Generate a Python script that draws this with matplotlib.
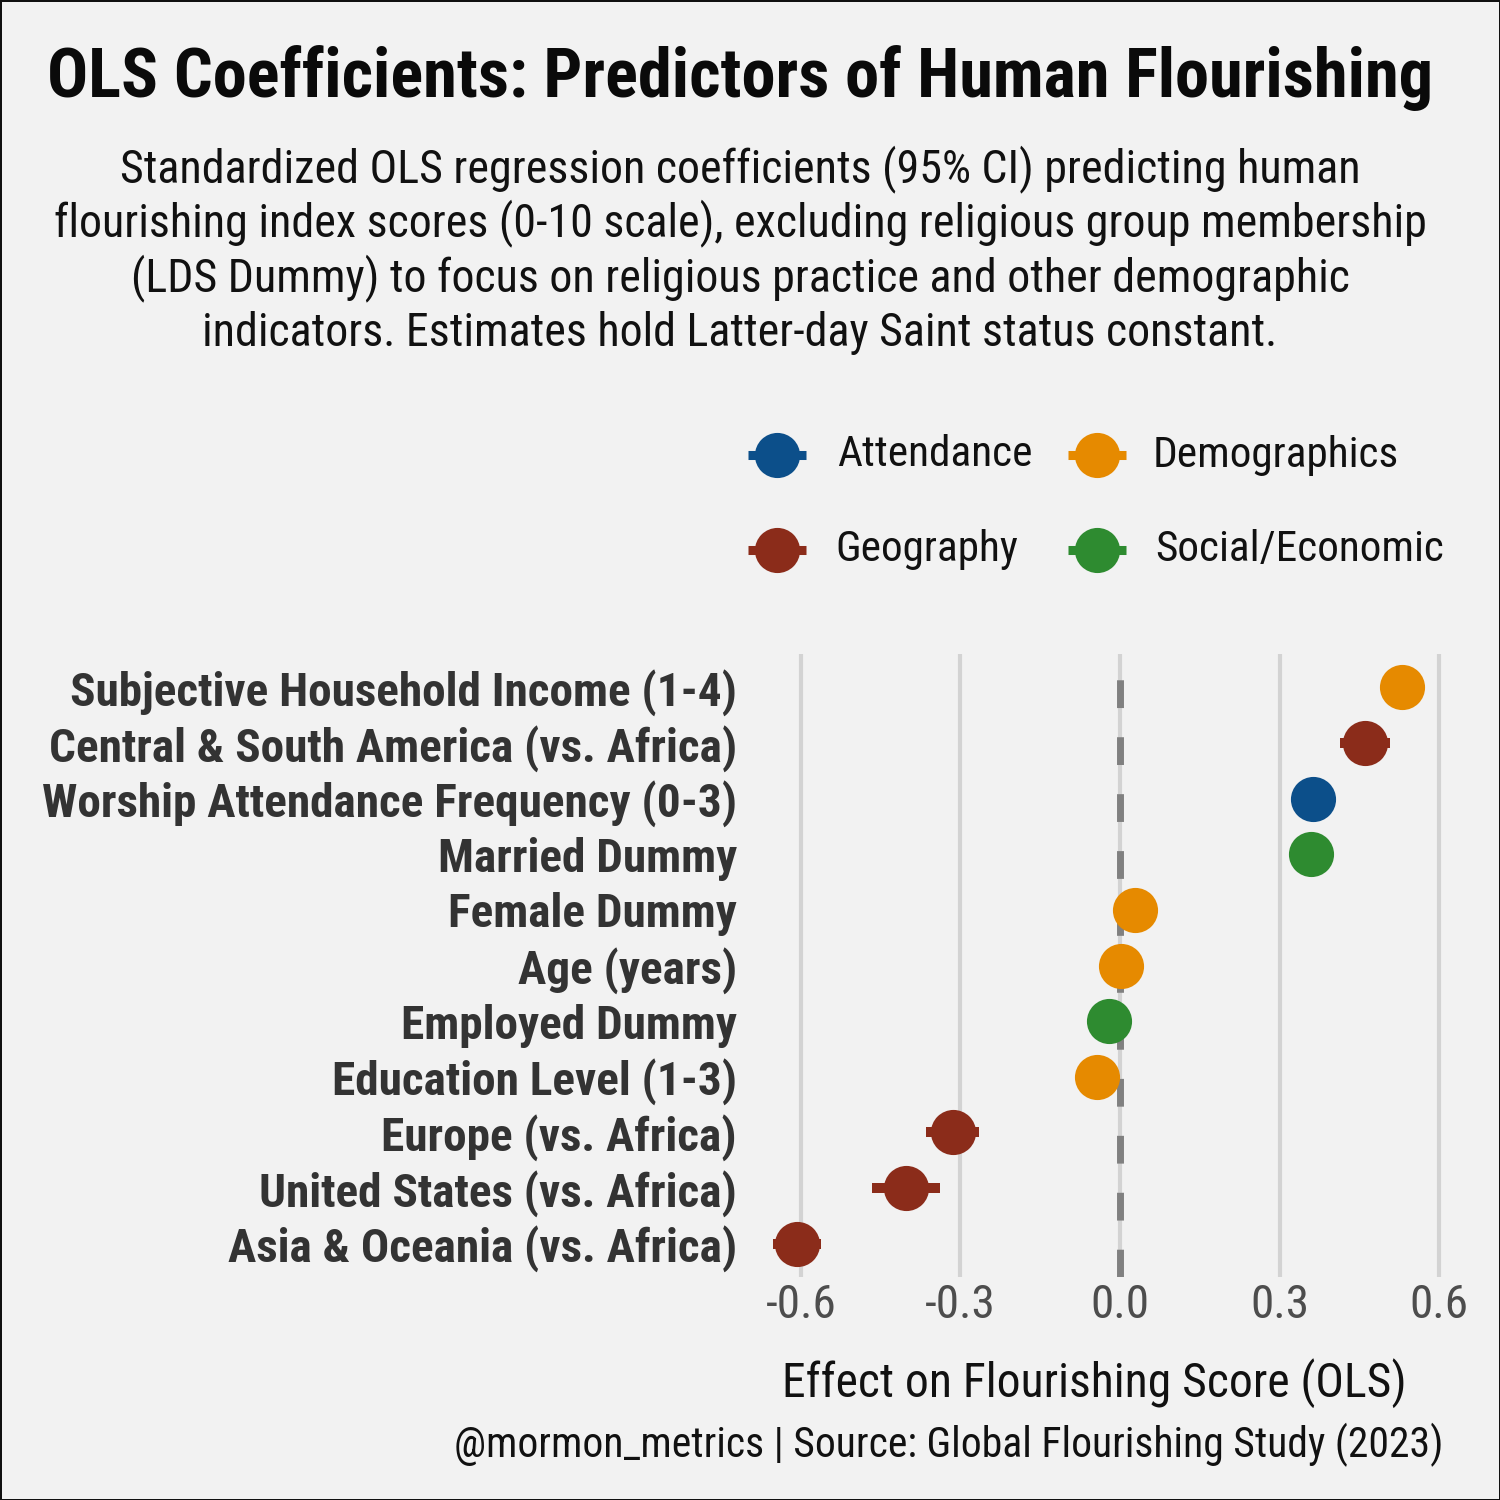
import matplotlib
matplotlib.use("Agg")
import matplotlib.pyplot as plt
from matplotlib import font_manager
from matplotlib.lines import Line2D

# ---------------- data ----------------
labels = [
    "Subjective Household Income (1-4)",
    "Central & South America (vs. Africa)",
    "Worship Attendance Frequency (0-3)",
    "Married Dummy",
    "Female Dummy",
    "Age (years)",
    "Employed Dummy",
    "Education Level (1-3)",
    "Europe (vs. Africa)",
    "United States (vs. Africa)",
    "Asia & Oceania (vs. Africa)",
]
coef = [0.530, 0.461, 0.363, 0.359, 0.028, 0.002, -0.021, -0.044, -0.315, -0.403, -0.607]
ci_low = [0.505, 0.413, 0.343, 0.336, 0.000, -0.003, -0.048, -0.072, -0.364, -0.467, -0.653]
ci_high = [0.555, 0.508, 0.383, 0.382, 0.056, 0.007, 0.006, -0.016, -0.266, -0.338, -0.562]
group = ["Demographics", "Geography", "Attendance", "Social/Economic", "Demographics",
         "Demographics", "Social/Economic", "Demographics", "Geography", "Geography", "Geography"]
groups = ["Attendance", "Demographics", "Geography", "Social/Economic"]
colors = {"Attendance": "#0C4F8A", "Demographics": "#E68A00",
          "Geography": "#8B2C1A", "Social/Economic": "#2E8B30"}
xticks = [-0.6, -0.3, 0.0, 0.3, 0.6]
xtick_labels = ["-0.6", "-0.3", "0.0", "0.3", "0.6"]

title = "OLS Coefficients: Predictors of Human Flourishing"
subtitle_lines = [
    "Standardized OLS regression coefficients (95% CI) predicting human",
    "flourishing index scores (0-10 scale), excluding religious group membership",
    "(LDS Dummy) to focus on religious practice and other demographic",
    "indicators. Estimates hold Latter-day Saint status constant.",
]
xlabel = "Effect on Flourishing Score (OLS)"
caption = "@mormon_metrics | Source: Global Flourishing Study (2023)"

# ---------------- font ----------------
avail = {f.name for f in font_manager.fontManager.ttflist}
fam = "DejaVu Sans"
for cand in ["Liberation Sans Narrow", "Roboto Condensed", "Open Sans Condensed", "Roboto", "Noto Sans"]:
    if cand in avail:
        fam = cand
        break
plt.rcParams["font.family"] = [fam, "DejaVu Sans"]

W = H = 1500
fig = plt.figure(figsize=(15, 15), dpi=100)
BG = "#F2F2F2"
fig.patch.set_facecolor(BG)
fig.patch.set_edgecolor("#111111")
fig.patch.set_linewidth(2)

def fx(px):
    return px / W

def fy(py):
    return 1 - py / H

ax_left, ax_right, ax_top, ax_bot = 742.5, 1447, 654, 1277
ax = fig.add_axes([fx(ax_left), fy(ax_bot), fx(ax_right - ax_left), (ax_bot - ax_top) / H])
ax.set_facecolor(BG)

n = len(labels)
ypos = [n - 1 - i for i in range(n)]

for xt in xticks:
    ax.axvline(xt, color="#D3D3D3", lw=3, zorder=1)
ax.axvline(0, color="#808080", lw=5, ls=(0, (4, 4.2)), zorder=2)

for i in range(n):
    c = colors[group[i]]
    ax.plot([ci_low[i], ci_high[i]], [ypos[i], ypos[i]], color=c, lw=7.2,
            solid_capstyle="butt", zorder=3)
    ax.plot([coef[i]], [ypos[i]], "o", color=c, ms=32.5, mew=0, zorder=4)

ax.set_xlim(-0.71, 0.615)
ax.set_ylim(-0.6, n - 1 + 0.6)
ax.set_xticks(xticks, xtick_labels)
ax.set_yticks(ypos, labels)
for s in ax.spines.values():
    s.set_visible(False)
ax.tick_params(axis="both", length=0)
ax.tick_params(axis="x", pad=4.5, labelcolor="#4D4D4D", labelsize=24)
ax.tick_params(axis="y", pad=4, labelcolor="#333333", labelsize=26)
for t in ax.get_yticklabels():
    t.set_fontweight("bold")

ax.set_xlabel(xlabel, fontsize=32, color="#111111")
ax.xaxis.label.set_va("center")
ax.xaxis.set_label_coords(0.5, -(1383 - ax_bot) / (ax_bot - ax_top))

# title, subtitle, caption
t_title = fig.text(fx(740), fy(97), title, ha="center", va="baseline",
                   fontsize=44, fontweight="bold", color="#0A0A0A")
sub_texts = []
for k, line in enumerate(subtitle_lines):
    sub_texts.append(fig.text(fx(740), fy(182 + k * 54.7), line, ha="center",
                              va="baseline", fontsize=28, color="#111111"))
t_cap = fig.text(fx(1443), fy(1445), caption, ha="right", va="center",
                 fontsize=24, color="#111111")

# legend (manual)
leg_pos = {"Attendance": (777, 455, 837), "Demographics": (1097, 455, 1153),
           "Geography": (777, 550, 835), "Social/Economic": (1097, 550, 1155)}
leg_texts = []
for g in groups:
    mx, my, tx = leg_pos[g]
    fig.add_artist(Line2D([fx(mx - 29), fx(mx + 29)], [fy(my), fy(my)],
                          transform=fig.transFigure, color=colors[g], lw=6.5,
                          solid_capstyle="butt"))
    fig.add_artist(Line2D([fx(mx)], [fy(my)], transform=fig.transFigure,
                          marker="o", ms=32.5, mew=0, color=colors[g]))
    leg_texts.append(fig.text(fx(tx), fy(my), g, ha="left", va="center",
                              fontsize=28, color="#111111"))

# fit text widths to the reference
fig.canvas.draw()
r = fig.canvas.get_renderer()

def fit(texts, width_px):
    wmax = max(t.get_window_extent(r).width for t in texts)
    s = width_px / wmax
    for t in texts:
        t.set_fontsize(t.get_fontsize() * s)

fit([t_title], 1386)
fit(sub_texts, 1373)
fit([t_cap], 988)
fit(leg_texts, 289)
fit(list(ax.get_yticklabels()), 697)
fit(list(ax.get_xticklabels()), 71)
fit([ax.xaxis.label], 626)

fig.savefig("out.png", dpi=100, facecolor=BG, edgecolor=fig.get_edgecolor())
